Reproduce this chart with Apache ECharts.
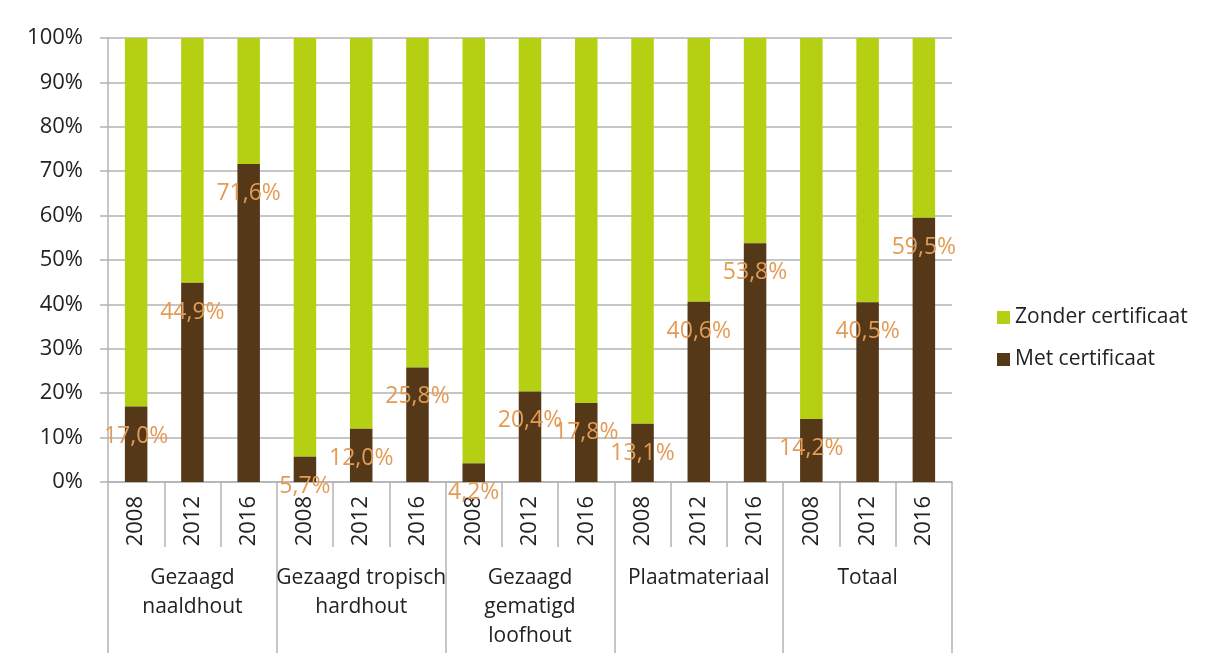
<!DOCTYPE html>
<html>
<head>
<meta charset="utf-8">
<script src="https://cdn.jsdelivr.net/npm/echarts@6/dist/echarts.min.js"></script>
<style>
  html, body { margin: 0; padding: 0; background: #fff; }
  #chart { width: 1207px; height: 660px; }
</style>
</head>
<body>
<div id="chart"></div>
<script>
// categories
const years = ['2008', '2012', '2016', '2008', '2012', '2016', '2008', '2012', '2016',
  '2008', '2012', '2016', '2008', '2012', '2016'];
const groups = ['Gezaagd\nnaaldhout', 'Gezaagd tropisch\nhardhout', 'Gezaagd\ngematigd\nloofhout',
  'Plaatmateriaal', 'Totaal'];

// series values (percent)
const metCertificaat = [17.0, 44.9, 71.6, 5.7, 12.0, 25.8, 4.2, 20.4, 17.8, 13.1, 40.6, 53.8, 14.2, 40.5, 59.5];
const zonderCertificaat = [83.0, 55.1, 28.4, 94.3, 88.0, 74.2, 95.8, 79.6, 82.2, 86.9, 59.4, 46.2, 85.8, 59.5, 40.5];

const gridGray = '#b3b3b3';
const fontFam = '"Open Sans", sans-serif';

const chart = echarts.init(document.getElementById('chart'));
chart.setOption({
  animation: false,
  textStyle: { fontFamily: fontFam },
  grid: { left: 108, right: 255, top: 38, bottom: 178 },
  legend: {
    orient: 'vertical',
    left: 992,
    top: 302,
    itemWidth: 13,
    itemHeight: 13,
    itemGap: 21,
    icon: 'rect',
    data: ['Zonder certificaat', 'Met certificaat'],
    textStyle: { fontFamily: fontFam, fontSize: 21, color: '#222' }
  },
  xAxis: [
    {
      type: 'category',
      data: years,
      axisLine: { lineStyle: { color: gridGray, width: 1.5 } },
      axisTick: { show: true, interval: 0, length: 65, lineStyle: { color: gridGray, width: 1.5 } },
      axisLabel: { interval: 0, rotate: 90, margin: 14, fontSize: 22, color: '#222', fontFamily: fontFam }
    },
    {
      type: 'category',
      data: groups,
      position: 'bottom',
      axisLine: { show: false },
      axisTick: { show: true, interval: 0, length: 171, lineStyle: { color: gridGray, width: 1.5 } },
      axisLabel: { interval: 0, margin: 82, fontSize: 21, lineHeight: 29, color: '#222', fontFamily: fontFam }
    }
  ],
  yAxis: {
    type: 'value',
    min: 0,
    max: 100,
    interval: 10,
    axisLine: { show: true, lineStyle: { color: gridGray, width: 1.5 } },
    axisTick: { show: true, length: 8, lineStyle: { color: gridGray, width: 1.5 } },
    axisLabel: { formatter: '{value}%', margin: 25, fontSize: 22, color: '#222', fontFamily: fontFam },
    splitLine: { lineStyle: { color: gridGray, width: 1.5 } }
  },
  series: [
    {
      name: 'Met certificaat',
      type: 'bar',
      stack: 'total',
      barWidth: '40%',
      data: metCertificaat,
      itemStyle: { color: '#553817' },
      label: {
        show: true,
        position: 'insideTop',
        distance: 18,
        fontSize: 23,
        color: '#e39b55',
        fontFamily: fontFam,
        formatter: p => p.value.toFixed(1).replace('.', ',') + '%'
      },
      z: 2
    },
    {
      name: 'Zonder certificaat',
      type: 'bar',
      stack: 'total',
      barWidth: '40%',
      data: zonderCertificaat,
      itemStyle: { color: '#b5d012' },
      z: 1
    }
  ]
});
</script>
</body>
</html>
